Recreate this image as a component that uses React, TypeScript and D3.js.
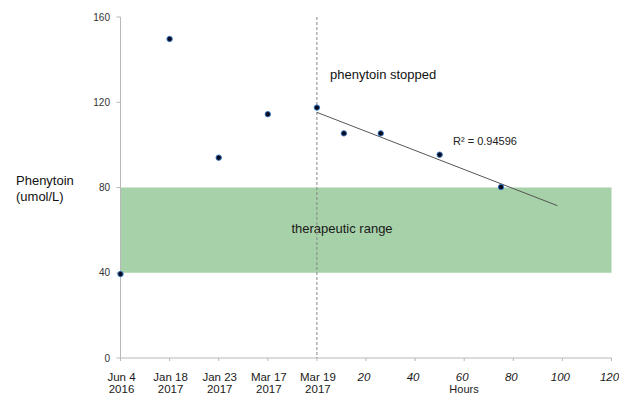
import React from "react";
import * as d3 from "d3";

// ---- data ----
const dateLabels: [string, string][] = [
  ["Jun 4", "2016"],
  ["Jan 18", "2017"],
  ["Jan 23", "2017"],
  ["Mar 17", "2017"],
  ["Mar 19", "2017"],
];
const datePositions = [-80, -60, -40, -20, 0]; // placed on the hours axis before the stop
const dateValues = [39.4, 149.7, 94, 114.4, 117.5];
const hourPoints = [11, 26, 50, 75];
const hourValues = [105.4, 105.4, 95.4, 80.2];
const hourTicks = [20, 40, 60, 80, 100, 120];
const yTicks = [0, 40, 80, 120, 160];
const rangeLow = 40;
const rangeHigh = 80;
const trendEndHour = 98;
const rSquaredText = "R² = 0.94596";

const W = 619;
const H = 395;

export default function App() {
  const x = d3.scaleLinear().domain([-80, 120]).range([120.5, 611.5]);
  const y = d3.scaleLinear().domain([0, 160]).range([358, 17]);

  // linear regression over points from the stop onwards
  const fitX = [0, ...hourPoints];
  const fitY = [dateValues[dateValues.length - 1], ...hourValues];
  const mx = d3.mean(fitX)!;
  const my = d3.mean(fitY)!;
  let sxy = 0,
    sxx = 0;
  fitX.forEach((v, i) => {
    sxy += (v - mx) * (fitY[i] - my);
    sxx += (v - mx) * (v - mx);
  });
  const slope = sxy / sxx;
  const intercept = my - slope * mx;
  const trendLine = d3
    .line<number>()
    .x((d) => x(d))
    .y((d) => y(intercept + slope * d));

  const allTicks = [...datePositions, ...hourTicks];
  const font = "Liberation Sans, Arial, Helvetica, sans-serif";
  const axisColor = "#b8b8b8";

  const points = [
    ...datePositions.map((h, i) => ({ h, v: dateValues[i] })),
    ...hourPoints.map((h, i) => ({ h, v: hourValues[i] })),
  ];

  return (
    <svg
      width={W}
      height={H}
      style={{ position: "absolute", left: 0, top: 0, background: "#fff" }}
      fontFamily={font}
    >
      {/* therapeutic range band */}
      <rect
        x={x(-80)}
        y={y(rangeHigh)}
        width={x(120) - x(-80)}
        height={y(rangeLow) - y(rangeHigh)}
        fill="#a7d1a9"
      />
      <text x={342} y={233} fontSize={13} textAnchor="middle" fill="#1a1a1a">
        therapeutic range
      </text>

      {/* y axis */}
      <line x1={x(-80)} x2={x(-80)} y1={y(160)} y2={y(0)} stroke={axisColor} />
      {yTicks.map((t) => (
        <g key={"y" + t}>
          <line x1={x(-80) - 4} x2={x(-80)} y1={y(t)} y2={y(t)} stroke={axisColor} />
          <text
            x={110}
            y={y(t) + 3.5}
            fontSize={10}
            textAnchor="end"
            fill="#333"
          >
            {t}
          </text>
        </g>
      ))}

      {/* x axis */}
      <line x1={x(-80)} x2={x(120)} y1={y(0)} y2={y(0)} stroke={axisColor} />
      {allTicks.map((t) => (
        <line
          key={"xt" + t}
          x1={x(t)}
          x2={x(t)}
          y1={y(0)}
          y2={y(0) + 3}
          stroke={axisColor}
        />
      ))}
      {dateLabels.map((lab, i) => (
        <text
          key={"dl" + i}
          x={x(datePositions[i]) + 1}
          fontSize={11.5}
          textAnchor="middle"
          fill="#1a1a1a"
        >
          <tspan x={x(datePositions[i]) + 1} y={381}>
            {lab[0]}
          </tspan>
          <tspan x={x(datePositions[i]) + 1} y={393}>
            {lab[1]}
          </tspan>
        </text>
      ))}
      {hourTicks.map((t) => (
        <text
          key={"hl" + t}
          x={x(t) - 2}
          y={381}
          fontSize={11.5}
          fontStyle="italic"
          textAnchor="middle"
          fill="#1a1a1a"
        >
          {t}
        </text>
      ))}
      <text x={464} y={392.5} fontSize={11} textAnchor="middle" fill="#222">
        Hours
      </text>

      {/* y axis title */}
      <text x={16} fontSize={13} fill="#111">
        <tspan x={16} y={185}>
          Phenytoin
        </tspan>
        <tspan x={16} y={201}>
          (umol/L)
        </tspan>
      </text>

      {/* stop line */}
      <line
        x1={x(0)}
        x2={x(0)}
        y1={y(160)}
        y2={y(0)}
        stroke="#888"
        strokeWidth={1}
        strokeDasharray="3,2"
      />
      <text x={330} y={79} fontSize={13} fill="#111">
        phenytoin stopped
      </text>

      {/* trend line */}
      <path
        d={trendLine([0, trendEndHour]) || ""}
        stroke="#555"
        strokeWidth={1}
        fill="none"
      />
      <text x={453} y={145} fontSize={11} fill="#222">
        {rSquaredText}
      </text>

      {/* points */}
      {points.map((p, i) => (
        <circle
          key={"p" + i}
          cx={x(p.h)}
          cy={y(p.v)}
          r={2.7}
          fill="#050a1e"
          stroke="#3a78c2"
          strokeWidth={1}
        />
      ))}
    </svg>
  );
}
